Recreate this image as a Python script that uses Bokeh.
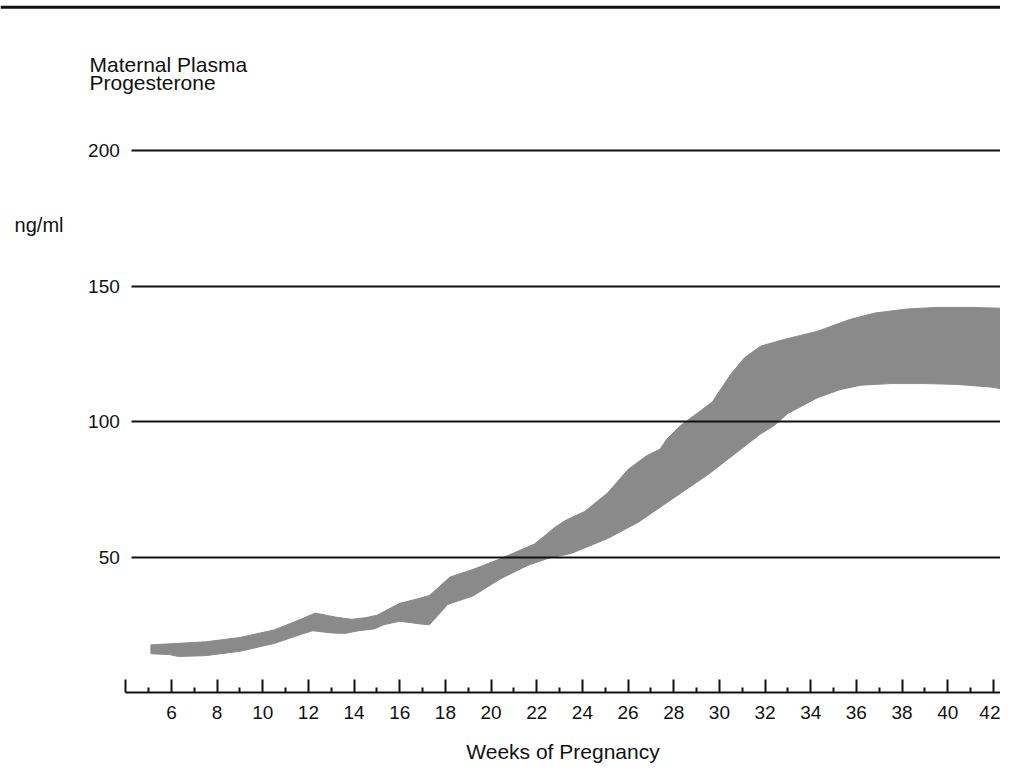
from bokeh.plotting import figure
from bokeh.models import Range1d, FixedTicker, Label, Span
from bokeh.embed import file_html
from bokeh.resources import INLINE

# ---- data ----
upper_weeks = [5.1, 6.0, 7.5, 9.0, 10.5, 11.6, 12.3, 13.2, 13.9, 14.5, 15.0, 16.0, 16.8, 17.3, 18.2,
               19.2, 20.3, 21.0, 21.9, 22.3, 22.8, 23.3, 24.1, 25.1, 26.0, 26.8, 27.4, 27.7, 28.3, 28.6,
               29.2, 29.7, 30.05, 30.5, 31.1, 31.8, 32.8, 34.3, 35.7, 36.8, 38.2, 39.5, 41.1, 42.3, 43.0]
upper_vals = [17.6, 18.0, 18.7, 20.3, 23.1, 26.8, 29.3, 27.8, 27.0, 27.6, 28.5, 32.9, 34.6, 35.8, 42.6,
              45.4, 49.0, 51.5, 54.8, 57.5, 61.0, 63.7, 66.8, 73.6, 82.3, 87.3, 89.8, 93.5, 98.5, 100.4,
              104.1, 107.3, 111.8, 117.4, 123.5, 127.8, 130.2, 133.3, 137.6, 140.0, 141.5, 142.1, 142.1, 141.8, 140.6]

lower_weeks = [5.1, 5.9, 6.3, 7.5, 9.0, 10.5, 11.8, 12.2, 13.0, 13.6, 14.2, 14.9, 15.3, 16.0, 17.0,
               17.3, 18.1, 19.2, 20.4, 21.6, 22.5, 23.5, 25.1, 26.5, 28.0, 29.5, 30.9, 31.8, 32.4, 33.0,
               34.3, 35.3, 36.2, 37.5, 39.0, 40.4, 41.9, 43.0]
lower_vals = [14.3, 14.0, 13.3, 13.6, 15.2, 18.1, 21.8, 22.8, 22.0, 21.8, 22.8, 23.5, 25.0, 26.3, 25.2,
              25.0, 32.5, 35.6, 41.9, 46.9, 49.5, 51.3, 56.8, 63.1, 71.8, 80.4, 89.5, 95.4, 98.5, 103.0,
              108.8, 111.8, 113.4, 114.0, 114.0, 113.7, 112.7, 111.2]

major_weeks = [4, 6, 8, 10, 12, 14, 16, 18, 20, 22, 24, 26, 28, 30, 32, 34, 36, 38, 40, 42]
minor_weeks = [5, 7, 9, 11, 13, 15, 17, 19, 21, 23, 25, 27, 29, 31, 33, 35, 37, 39, 41, 43]
y_ticks = [50, 100, 150, 200]

title_lines = ["Maternal Plasma", "Progesterone"]
unit_label = "ng/ml"
x_label = "Weeks of Pregnancy"

FONT = "Liberation Sans"
INK = "#111111"
BAND = "#8a8a8a"

p = figure(width=1000, height=768, title=None,
           x_range=Range1d(-1.488, 42.313), y_range=Range1d(-28.04, 255.35),
           output_backend="svg", toolbar_location=None,
           min_border=0, min_border_left=0, min_border_right=0,
           min_border_top=0, min_border_bottom=0)
p.outline_line_color = None
p.background_fill_color = "white"
p.border_fill_color = "white"

# band
px = list(upper_weeks) + list(reversed(lower_weeks))
py = list(upper_vals) + list(reversed(lower_vals))
p.patch(px, py, fill_color=BAND, line_color=BAND, line_width=1)

# x axis, drawn at value 0 inside the frame
xa = p.xaxis[0]
xa.fixed_location = 0
xa.ticker = FixedTicker(ticks=major_weeks, minor_ticks=minor_weeks)
xa.major_label_overrides = {4: ""}
xa.bounds = (4, 43)
xa.axis_line_width = 2
xa.axis_line_color = INK
xa.major_tick_in = 13
xa.major_tick_out = 0
xa.minor_tick_in = 5
xa.minor_tick_out = 0
xa.major_tick_line_width = 2
xa.minor_tick_line_width = 2
xa.major_tick_line_color = INK
xa.minor_tick_line_color = INK
xa.major_label_standoff = 13
xa.major_label_text_font = FONT
xa.major_label_text_font_size = "19px"
xa.major_label_text_color = INK
xa.axis_label = x_label
xa.axis_label_text_font = FONT
xa.axis_label_text_font_size = "21px"
xa.axis_label_text_font_style = "normal"
xa.axis_label_text_color = INK
xa.axis_label_standoff = 18

# y axis, drawn at week 4
ya = p.yaxis[0]
ya.fixed_location = 4
ya.ticker = FixedTicker(ticks=y_ticks, minor_ticks=[])
ya.axis_line_color = None
ya.major_tick_in = 0
ya.major_tick_out = 0
ya.minor_tick_in = 0
ya.minor_tick_out = 0
ya.major_tick_line_color = None
ya.minor_tick_line_color = None
ya.major_label_standoff = 6
ya.major_label_text_font = FONT
ya.major_label_text_font_size = "19px"
ya.major_label_text_color = INK

# grid
p.xgrid.grid_line_color = None
g = p.ygrid[0]
g.ticker = ya.ticker
if "cross_bounds" in g.properties():
    g.grid_line_color = INK
    g.grid_line_width = 2
    g.level = "annotation"
    g.cross_bounds = (4.27, 43)
else:
    g.grid_line_color = None
    p.segment(x0=[4.27] * len(y_ticks), y0=y_ticks, x1=[43] * len(y_ticks), y1=y_ticks,
              line_color=INK, line_width=2)

# top rule of the page
p.add_layout(Span(location=252.88, dimension="width", line_color=INK, line_width=3))

# texts
p.add_layout(Label(x=2.41, y=231.75, text=title_lines[0], text_font=FONT, text_font_size="21px",
                   text_color=INK, text_baseline="alphabetic", text_align="left"))
p.add_layout(Label(x=2.41, y=224.95, text=title_lines[1], text_font=FONT, text_font_size="21px",
                   text_color=INK, text_baseline="alphabetic", text_align="left"))
p.add_layout(Label(x=-0.87, y=172.65, text=unit_label, text_font=FONT, text_font_size="20px",
                   text_color=INK, text_baseline="alphabetic", text_align="left"))

open("out.html", "w").write(file_html(p, INLINE))
